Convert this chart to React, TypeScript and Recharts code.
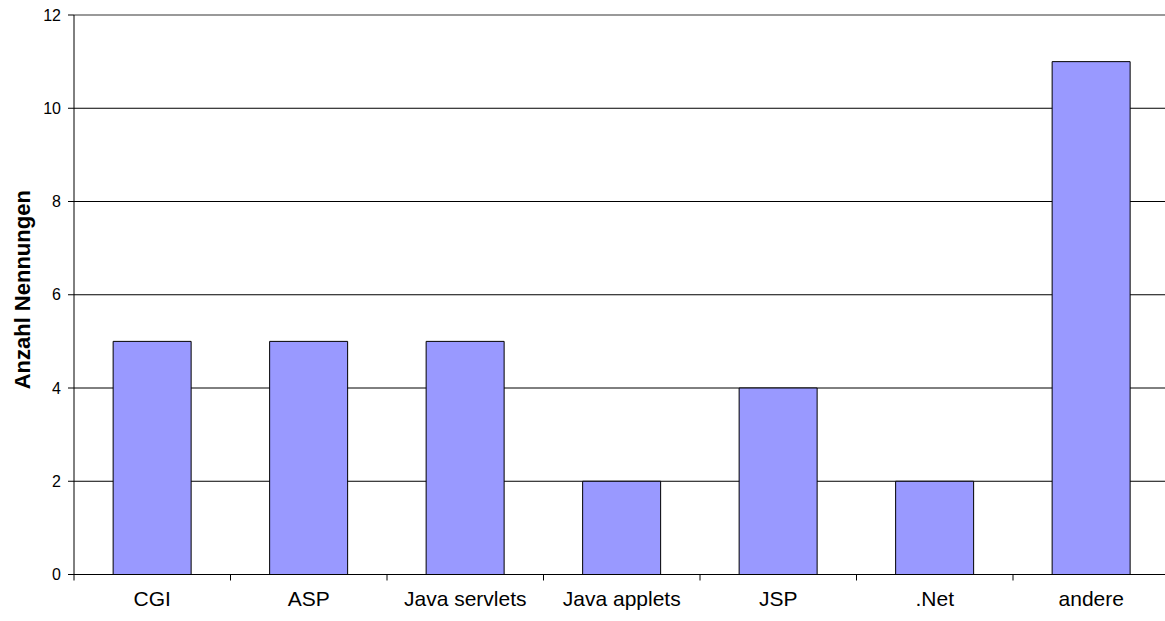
import { BarChart, Bar, XAxis, YAxis, CartesianGrid, ReferenceLine } from 'recharts';

const categories = ['CGI', 'ASP', 'Java servlets', 'Java applets', 'JSP', '.Net', 'andere'];
const counts = [5, 5, 5, 2, 4, 2, 11];
const yTicks = [0, 2, 4, 6, 8, 10, 12];

const data = categories.map((name, i) => ({ name, value: counts[i] }));

const FONT = '"Liberation Sans", Arial, sans-serif';

// category label centred, tick mark on the boundary to the left of the category
function CategoryTick(props: any) {
  const { x, y, payload, width, visibleTicksCount } = props;
  const half = width / visibleTicksCount / 2;
  return (
    <g>
      <line x1={x - half} y1={y - 6} x2={x - half} y2={y} stroke="#000" />
      <text x={x} y={y + 25} textAnchor="middle" fontSize={21} fontFamily={FONT} fill="#000">
        {payload.value}
      </text>
    </g>
  );
}

function YLabel(props: any) {
  const { viewBox } = props;
  const cy = viewBox.y + viewBox.height / 2 - 5;
  return (
    <text
      x={22}
      y={cy}
      transform={`rotate(-90, 22, ${cy})`}
      textAnchor="middle"
      dominantBaseline="central"
      fontSize={22}
      fontWeight="bold"
      fontFamily={FONT}
      fill="#000"
    >
      Anzahl Nennungen
    </text>
  );
}

export default function App() {
  return (
    <div style={{ position: 'absolute', left: 0, top: 0, width: 1165, height: 621, overflow: 'hidden', background: '#fff' }}>
      <BarChart
        width={1175}
        height={621}
        data={data}
        margin={{ top: 15, right: 5.5, left: 0, bottom: 0 }}
        barCategoryGap="25%"
      >
        <CartesianGrid vertical={false} stroke="#000" />
        <XAxis
          dataKey="name"
          height={46.5}
          axisLine={{ stroke: '#000' }}
          tickLine={false}
          tickSize={6}
          tickMargin={0}
          interval={0}
          tick={<CategoryTick />}
        />
        <YAxis
          width={74}
          domain={[0, 12]}
          ticks={yTicks}
          interval={0}
          axisLine={{ stroke: '#000' }}
          tickLine={{ stroke: '#000' }}
          tickSize={6}
          tickMargin={7}
          tick={{ fill: '#000', fontSize: 16, fontFamily: FONT }}
          label={<YLabel />}
        />
        <ReferenceLine y={12} stroke="#999" strokeWidth={2} />
        <Bar dataKey="value" fill="#9999FF" stroke="#000" strokeWidth={1} isAnimationActive={false} />
      </BarChart>
    </div>
  );
}
